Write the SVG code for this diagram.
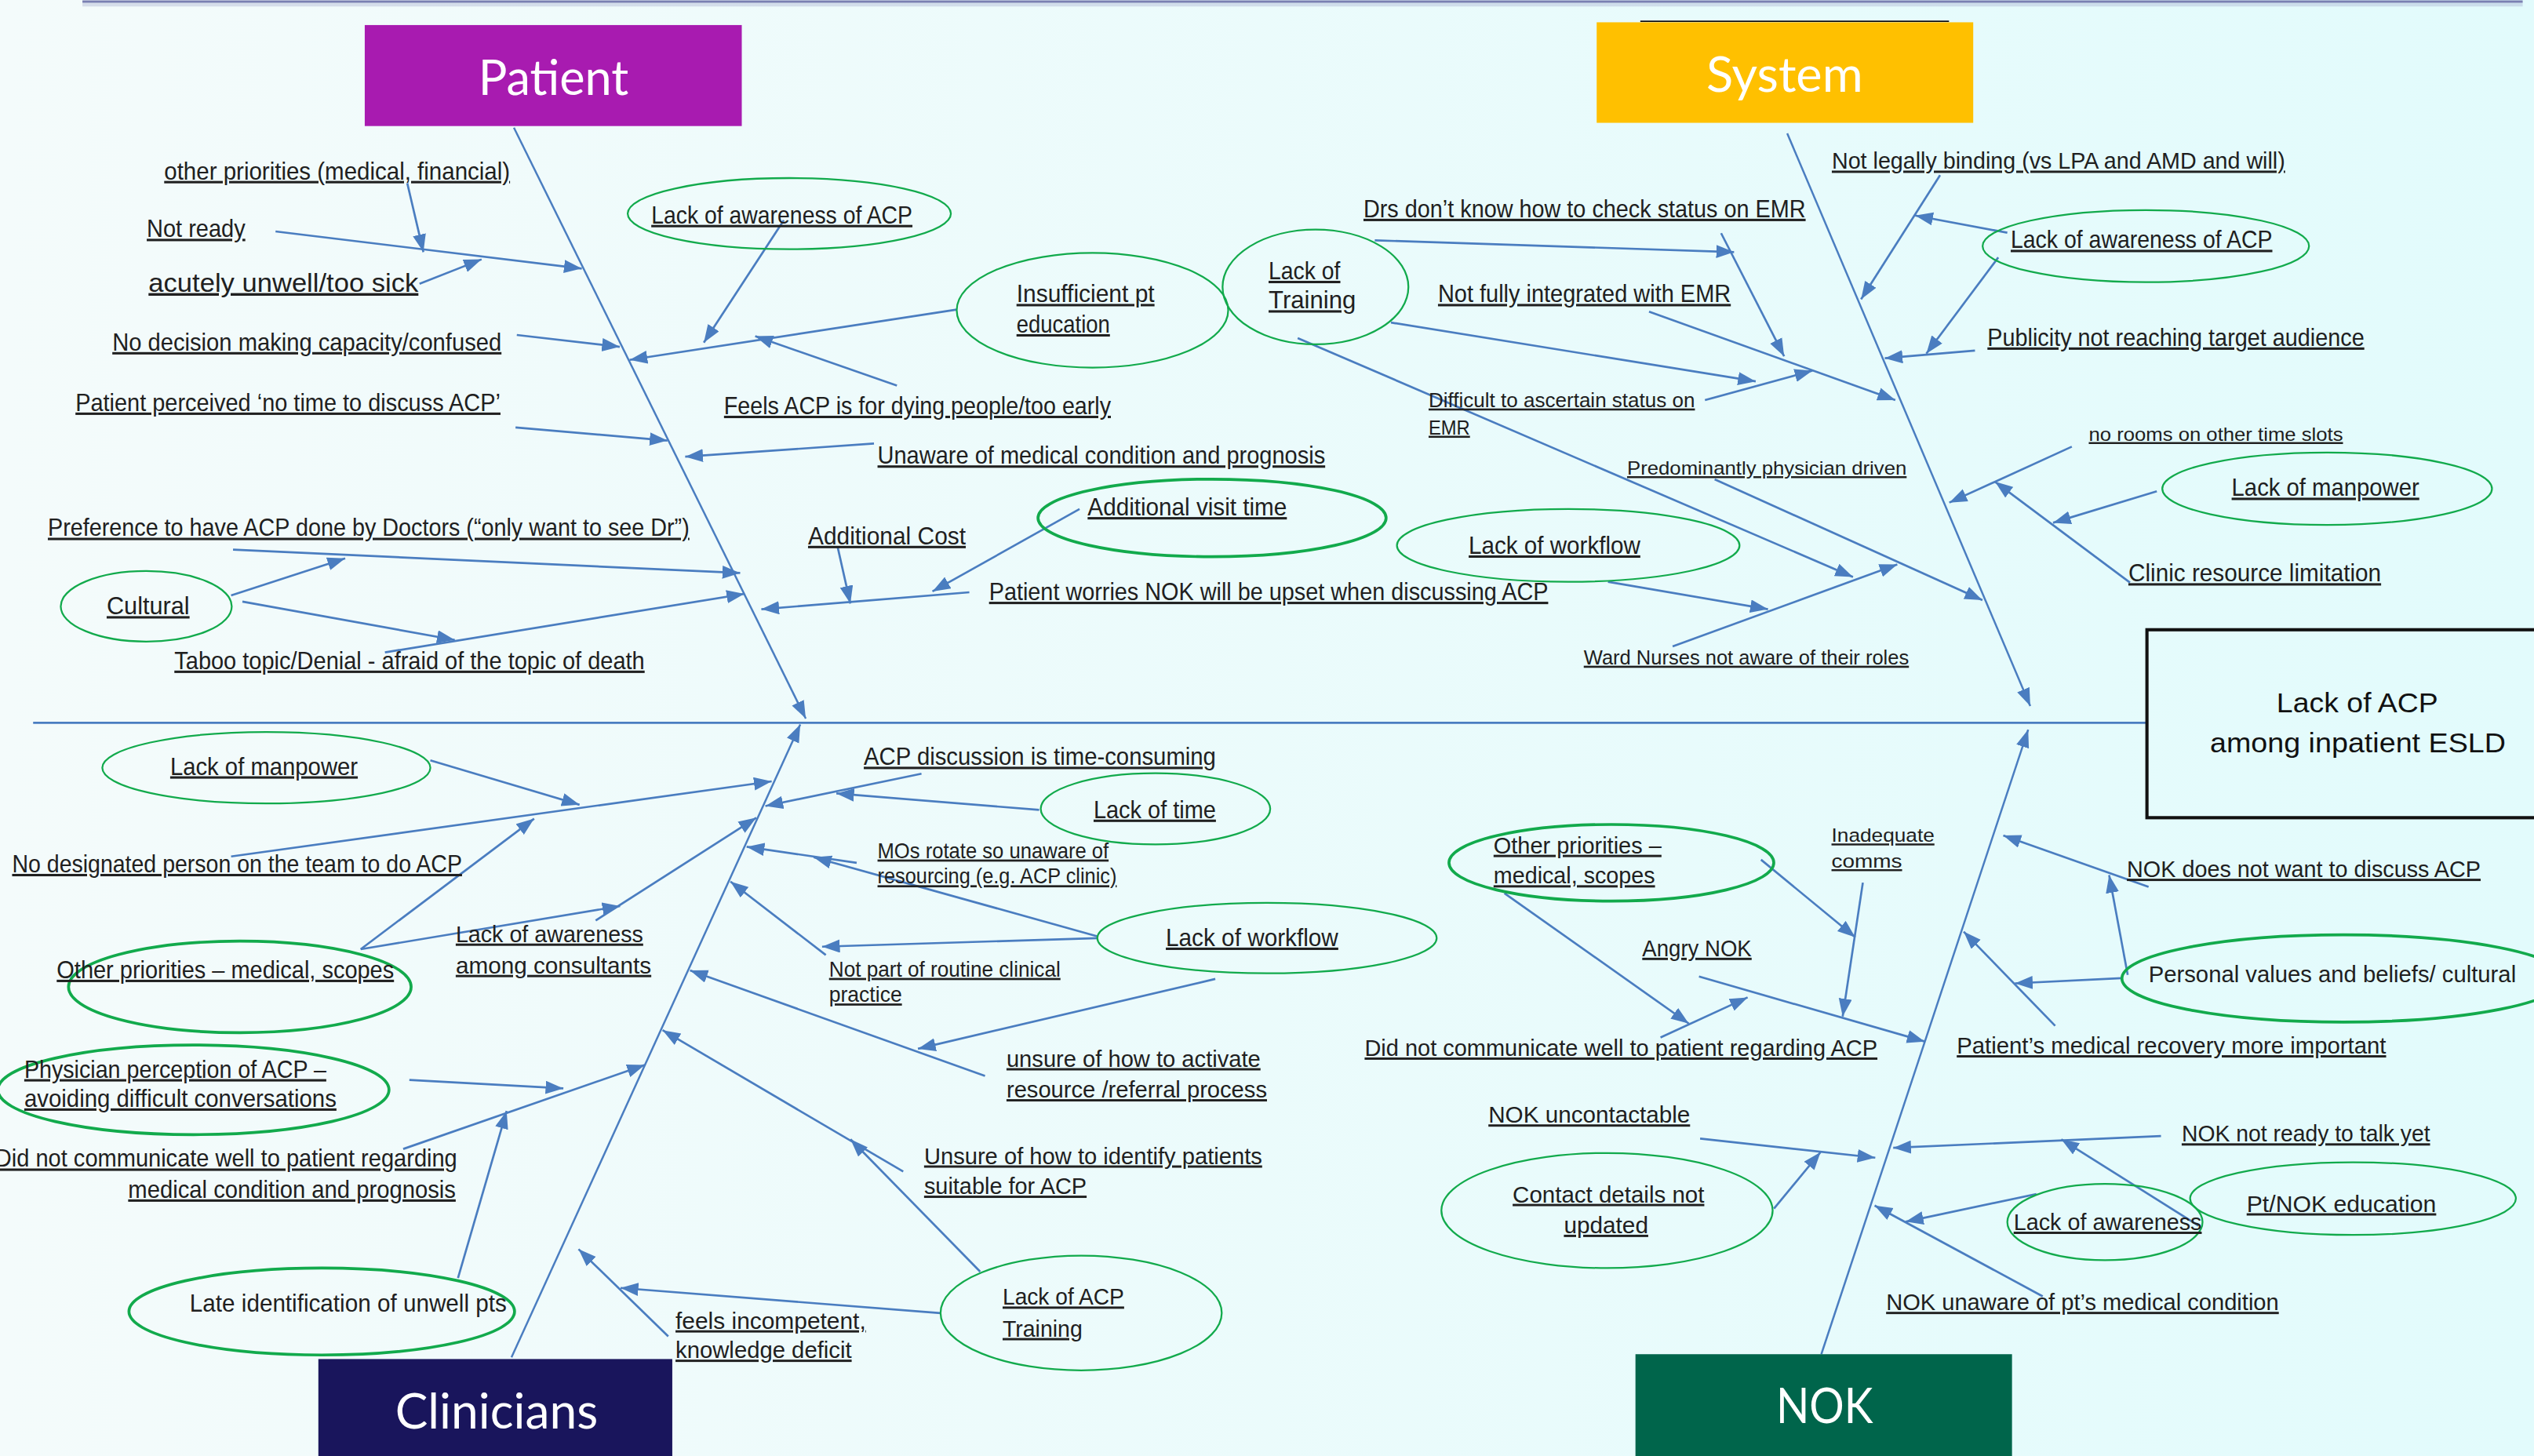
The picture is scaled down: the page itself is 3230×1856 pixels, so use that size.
<svg xmlns="http://www.w3.org/2000/svg" width="3230" height="1856" viewBox="0 0 3230 1856">
<defs>
<style>
.t{font-family:"Liberation Sans",Arial,sans-serif;font-size:14.3px;fill:#202020;text-decoration:underline}
.b{font-size:14.9px}
.s{font-size:12.8px}
.xs{font-size:12px}
.nu{text-decoration:none}
.h{font-family:Lato,"Open Sans",sans-serif;font-size:30px;fill:#ffffff}
.fx{font-family:"Liberation Sans",Arial,sans-serif;font-size:16.8px;fill:#111111}
.c{stroke:#4a7dc0;stroke-width:1.3;fill:none;marker-end:url(#ah)}
.bone{stroke:#4a7dc0;stroke-width:1.2;fill:none;marker-end:url(#ah)}
.e{fill:none;stroke:#12aa4c;stroke-width:1.1}
.ek{stroke-width:1.8}
</style>
<linearGradient id="bg" x1="0" y1="0" x2="1" y2="0">
<stop offset="0" stop-color="#f4fbfb"/>
<stop offset="1" stop-color="#e2fbfc"/>
</linearGradient>
<marker id="ah" markerUnits="userSpaceOnUse" markerWidth="12" markerHeight="9" refX="11" refY="4.1" orient="auto">
<path d="M0,0 L11,4.1 L0,8.2 z" fill="#4a7dc0"/>
</marker>
</defs>
<rect x="0" y="0" width="3230" height="1856" fill="url(#bg)"/>
<g transform="scale(2.05995)">
<line x1="51" y1="2.8" x2="1561" y2="2.8" stroke="#a0a6cc" stroke-width="2.4" opacity="0.35"/>
<line x1="51" y1="1" x2="1561" y2="1" stroke="#7a80b2" stroke-width="1.5"/>
<line x1="1015" y1="13.2" x2="1206" y2="13.2" stroke="#111" stroke-width="0.8"/>

<g id="connectors">
<line x1="20.5" y1="447.3" x2="1328.5" y2="447.3" stroke="#4a7dc0" stroke-width="1.3"/>
<line class="bone" x1="318" y1="79" x2="498.6" y2="444.7"/>
<line class="bone" x1="1105.9" y1="82.5" x2="1256.3" y2="436.9"/>
<line class="bone" x1="316.5" y1="840" x2="495.2" y2="448.3"/>
<line class="bone" x1="1127" y1="838" x2="1255" y2="451.5"/>
<!-- Patient -->
<line class="c" x1="252" y1="113.3" x2="262" y2="156"/>
<line class="c" x1="170.5" y1="143.2" x2="360" y2="166.2"/>
<line class="c" x1="259.6" y1="175.6" x2="298" y2="160.5"/>
<line class="c" x1="319.8" y1="207.3" x2="383.5" y2="214.6"/>
<line class="c" x1="319" y1="264.5" x2="413" y2="272.6"/>
<line class="c" x1="485" y1="136.3" x2="435.5" y2="212"/>
<line class="c" x1="592" y1="191.6" x2="389.6" y2="222.7"/>
<line class="c" x1="555" y1="238.6" x2="467.3" y2="208"/>
<line class="c" x1="540.8" y1="274.5" x2="424" y2="282.6"/>
<line class="c" x1="144.2" y1="340.1" x2="458" y2="354.6"/>
<line class="c" x1="143" y1="368.5" x2="213.6" y2="345.5"/>
<line class="c" x1="150" y1="372.3" x2="281.4" y2="396"/>
<line class="c" x1="238.2" y1="403.7" x2="460.6" y2="367.5"/>
<line class="c" x1="668" y1="315" x2="577" y2="366"/>
<line class="c" x1="518.3" y1="338.4" x2="526.2" y2="373.5"/>
<line class="c" x1="599.8" y1="366.5" x2="471.1" y2="377"/>
<!-- System -->
<line class="c" x1="1200.5" y1="108.4" x2="1151.6" y2="185.2"/>
<line class="c" x1="1242.1" y1="144" x2="1185.1" y2="133.4"/>
<line class="c" x1="1236.5" y1="159.3" x2="1192" y2="218.8"/>
<line class="c" x1="1222.1" y1="216.9" x2="1166.3" y2="221.7"/>
<line class="c" x1="1282" y1="276.4" x2="1206.2" y2="311"/>
<line class="c" x1="1334.6" y1="304" x2="1270.4" y2="323.5"/>
<line class="c" x1="1318" y1="360.5" x2="1234.5" y2="298.1"/>
<line class="c" x1="850.7" y1="148.7" x2="1073" y2="156"/>
<line class="c" x1="1065" y1="144.3" x2="1104" y2="220.5"/>
<line class="c" x1="860.7" y1="199.6" x2="1086.4" y2="236"/>
<line class="c" x1="1055" y1="247.6" x2="1121.5" y2="229.4"/>
<line class="c" x1="1020.4" y1="192.9" x2="1172.8" y2="247.6"/>
<line class="c" x1="803" y1="209.2" x2="1146.6" y2="357"/>
<line class="c" x1="1061" y1="296.6" x2="1226.7" y2="371.4"/>
<line class="c" x1="995" y1="360" x2="1094" y2="377"/>
<line class="c" x1="1035" y1="400" x2="1174" y2="349.3"/>
<!-- Clinicians -->
<line class="c" x1="266.3" y1="470.5" x2="358.6" y2="498"/>
<line class="c" x1="143" y1="530" x2="477.5" y2="483.5"/>
<line class="c" x1="223.2" y1="587.4" x2="330.5" y2="506.6"/>
<line class="c" x1="223.2" y1="587.4" x2="383.7" y2="560.7"/>
<line class="c" x1="368.6" y1="569.6" x2="468" y2="506"/>
<line class="c" x1="570.2" y1="478.8" x2="473.6" y2="498.8"/>
<line class="c" x1="643" y1="501.2" x2="517.5" y2="491"/>
<line class="c" x1="530.1" y1="533.9" x2="462" y2="524"/>
<line class="c" x1="679.3" y1="579.5" x2="503.5" y2="530.5"/>
<line class="c" x1="679.3" y1="580.5" x2="508.7" y2="585.8"/>
<line class="c" x1="511" y1="591" x2="452" y2="545.5"/>
<line class="c" x1="609.5" y1="665.8" x2="427" y2="600.5"/>
<line class="c" x1="752" y1="605.8" x2="568" y2="649"/>
<line class="c" x1="558.9" y1="725" x2="410" y2="637.5"/>
<line class="c" x1="606.5" y1="786.9" x2="526.3" y2="705"/>
<line class="c" x1="582" y1="812.6" x2="384" y2="797"/>
<line class="c" x1="413.5" y1="827" x2="358" y2="773"/>
<line class="c" x1="253.3" y1="668.3" x2="348.6" y2="673.5"/>
<line class="c" x1="249.5" y1="711" x2="399" y2="659"/>
<line class="c" x1="283.4" y1="790.8" x2="313.5" y2="687.5"/>
<!-- NOK -->
<line class="c" x1="1329.5" y1="548.8" x2="1239.6" y2="517"/>
<line class="c" x1="1316.6" y1="603.3" x2="1305.1" y2="541.5"/>
<line class="c" x1="1312.8" y1="605.3" x2="1246.8" y2="608.5"/>
<line class="c" x1="1271.7" y1="634.8" x2="1215.1" y2="576.5"/>
<line class="c" x1="1089.7" y1="532" x2="1148" y2="580"/>
<line class="c" x1="1152.7" y1="546.2" x2="1140.2" y2="629"/>
<line class="c" x1="930.9" y1="552.7" x2="1045" y2="633.4"/>
<line class="c" x1="1027.5" y1="642" x2="1081.4" y2="617.2"/>
<line class="c" x1="1051.3" y1="604.3" x2="1191" y2="644.5"/>
<line class="c" x1="1052" y1="704.6" x2="1160.4" y2="716.4"/>
<line class="c" x1="1097.7" y1="747.9" x2="1126.5" y2="713"/>
<line class="c" x1="1337.2" y1="703" x2="1171.5" y2="710.3"/>
<line class="c" x1="1360.3" y1="758.4" x2="1275.5" y2="705"/>
<line class="c" x1="1260.1" y1="738.9" x2="1179.2" y2="756"/>
<line class="c" x1="1264" y1="802.2" x2="1160" y2="746"/>
</g>

<g id="cat-patient">
<rect x="225.7" y="15.5" width="233.3" height="62.5" fill="#a81bb0"/>
<text class="h" x="296" y="58.5" textLength="93" lengthAdjust="spacingAndGlyphs">Patient</text>
</g>
<g id="cat-system">
<rect x="988" y="13.8" width="233" height="62.2" fill="#ffc000"/>
<text class="h" x="1055.8" y="56.6" textLength="97" lengthAdjust="spacingAndGlyphs">System</text>
</g>
<g id="cat-clinicians">
<rect x="197" y="841" width="219" height="62" fill="#19155c"/>
<text class="h" x="244.5" y="884" textLength="125.5" lengthAdjust="spacingAndGlyphs">Clinicians</text>
</g>
<g id="cat-nok">
<rect x="1012" y="838" width="233" height="65" fill="#00654b"/>
<text class="h" x="1099" y="880.7" textLength="60" lengthAdjust="spacingAndGlyphs">NOK</text>
</g>
<g id="effect">
<rect x="1328.5" y="389.7" width="260" height="116.3" fill="none" stroke="#111" stroke-width="2"/>
<text class="fx" x="1458.7" y="440.8" text-anchor="middle" textLength="100" lengthAdjust="spacingAndGlyphs">Lack of ACP</text>
<text class="fx" x="1459" y="465.6" text-anchor="middle" textLength="183" lengthAdjust="spacingAndGlyphs">among inpatient ESLD</text>
</g>

<!-- Patient nodes -->
<g id="p-other-priorities"><text class="t b" x="101.6" y="111" textLength="214" lengthAdjust="spacingAndGlyphs">other priorities (medical, financial)</text></g>
<g id="p-not-ready"><text class="t b" x="90.8" y="146.8" textLength="61" lengthAdjust="spacingAndGlyphs">Not ready</text></g>
<g id="p-acutely"><text class="t" style="font-size:16.5px" x="91.9" y="180.4" textLength="167" lengthAdjust="spacingAndGlyphs">acutely unwell/too sick</text></g>
<g id="p-no-decision"><text class="t b" x="69.5" y="216.9" textLength="240.8" lengthAdjust="spacingAndGlyphs">No decision making capacity/confused</text></g>
<g id="p-perceived"><text class="t b" x="46.7" y="254.3" textLength="263" lengthAdjust="spacingAndGlyphs">Patient perceived ‘no time to discuss ACP’</text></g>
<g id="p-preference"><text class="t b" x="29.6" y="331.8" textLength="397" lengthAdjust="spacingAndGlyphs">Preference to have ACP done by Doctors (“only want to see Dr”)</text></g>
<g id="p-cultural"><ellipse class="e" cx="90.5" cy="375.2" rx="52.9" ry="21.8"/><text class="t b" x="66" y="380.3" textLength="51.3" lengthAdjust="spacingAndGlyphs">Cultural</text></g>
<g id="p-taboo"><text class="t b" x="107.9" y="414" textLength="291" lengthAdjust="spacingAndGlyphs">Taboo topic/Denial - afraid of the topic of death</text></g>
<g id="p-awareness"><ellipse class="e" cx="488.4" cy="132.2" rx="100" ry="22"/><text class="t b" x="403" y="138.2" textLength="161.6" lengthAdjust="spacingAndGlyphs">Lack of awareness of ACP</text></g>
<g id="p-insufficient"><ellipse class="e" cx="676" cy="192" rx="84" ry="35.5"/><text class="t b" x="629" y="187.1" textLength="85.4" lengthAdjust="spacingAndGlyphs">Insufficient pt</text><text class="t b" x="629" y="205.8" textLength="57.8" lengthAdjust="spacingAndGlyphs">education</text></g>
<g id="s-lack-training"><ellipse class="e" cx="814" cy="177.6" rx="57.5" ry="35.5"/><text class="t b" x="785" y="172.8" textLength="44.4" lengthAdjust="spacingAndGlyphs">Lack of</text><text class="t b" x="785" y="191" textLength="54" lengthAdjust="spacingAndGlyphs">Training</text></g>
<g id="p-feels"><text class="t b" x="448" y="256.3" textLength="239.4" lengthAdjust="spacingAndGlyphs">Feels ACP is for dying people/too early</text></g>
<g id="p-unaware"><text class="t b" x="543" y="287" textLength="277" lengthAdjust="spacingAndGlyphs">Unaware of medical condition and prognosis</text></g>
<g id="p-visit-time"><ellipse class="e ek" cx="750" cy="320.5" rx="107.7" ry="24"/><text class="t b" x="673" y="319" textLength="123.3" lengthAdjust="spacingAndGlyphs">Additional visit time</text></g>
<g id="p-cost"><text class="t b" x="500" y="336.8" textLength="97.6" lengthAdjust="spacingAndGlyphs">Additional Cost</text></g>
<g id="p-worries"><text class="t b" x="612" y="371.4" textLength="346" lengthAdjust="spacingAndGlyphs">Patient worries NOK will be upset when discussing ACP</text></g>

<!-- System nodes -->
<g id="s-legal"><text class="t" x="1133.5" y="104.6" textLength="280.5" lengthAdjust="spacingAndGlyphs">Not legally binding (vs LPA and AMD and will)</text></g>
<g id="s-awareness"><ellipse class="e" cx="1327.8" cy="152.3" rx="101" ry="22.3"/><text class="t b" x="1244.2" y="153.6" textLength="161.9" lengthAdjust="spacingAndGlyphs">Lack of awareness of ACP</text></g>
<g id="s-publicity"><text class="t b" x="1229.8" y="214" textLength="233.2" lengthAdjust="spacingAndGlyphs">Publicity not reaching target audience</text></g>
<g id="s-no-rooms"><text class="t xs" x="1292.5" y="272.6" textLength="157.3" lengthAdjust="spacingAndGlyphs">no rooms on other time slots</text></g>
<g id="s-manpower"><ellipse class="e" cx="1440" cy="302.4" rx="102" ry="22.4"/><text class="t b" x="1380.9" y="307" textLength="116.1" lengthAdjust="spacingAndGlyphs">Lack of manpower</text></g>
<g id="s-clinic"><text class="t b" x="1317" y="359.9" textLength="156.4" lengthAdjust="spacingAndGlyphs">Clinic resource limitation</text></g>
<g id="s-drs"><text class="t b" x="843.7" y="134.4" textLength="273.6" lengthAdjust="spacingAndGlyphs">Drs don’t know how to check status on EMR</text></g>
<g id="s-integrated"><text class="t b" x="889.8" y="187.1" textLength="181.2" lengthAdjust="spacingAndGlyphs">Not fully integrated with EMR</text></g>
<g id="s-difficult"><text class="t" style="font-size:12.5px" x="884" y="251.8" textLength="164.8" lengthAdjust="spacingAndGlyphs">Difficult to ascertain status on</text><text class="t" style="font-size:12.5px" x="884" y="268.7" textLength="25.6" lengthAdjust="spacingAndGlyphs">EMR</text></g>
<g id="s-physician"><text class="t xs" x="1006.8" y="293.7" textLength="173" lengthAdjust="spacingAndGlyphs">Predominantly physician driven</text></g>
<g id="s-workflow"><ellipse class="e" cx="970.4" cy="337.5" rx="106" ry="22.5"/><text class="t b" x="908.8" y="342.7" textLength="106.2" lengthAdjust="spacingAndGlyphs">Lack of workflow</text></g>
<g id="s-nurses"><text class="t s" x="980" y="411" textLength="201.2" lengthAdjust="spacingAndGlyphs">Ward Nurses not aware of their roles</text></g>

<!-- Clinician nodes -->
<g id="c-manpower"><ellipse class="e" cx="164.8" cy="475.1" rx="101.5" ry="22.1"/><text class="t b" x="105.3" y="479.4" textLength="116.1" lengthAdjust="spacingAndGlyphs">Lack of manpower</text></g>
<g id="c-designated"><text class="t b" x="7.5" y="539.8" textLength="278.4" lengthAdjust="spacingAndGlyphs">No designated person on the team to do ACP</text></g>
<g id="c-time-consuming"><text class="t b" x="534.5" y="473.5" textLength="217.9" lengthAdjust="spacingAndGlyphs">ACP discussion is time-consuming</text></g>
<g id="c-time"><ellipse class="e" cx="715" cy="500.5" rx="71" ry="22"/><text class="t b" x="676.7" y="506.2" textLength="75.7" lengthAdjust="spacingAndGlyphs">Lack of time</text></g>
<g id="c-mos"><text class="t" style="font-size:13.2px" x="543" y="530.9" textLength="143" lengthAdjust="spacingAndGlyphs">MOs rotate so unaware of</text><text class="t" style="font-size:13.2px" x="543" y="546.8" textLength="148" lengthAdjust="spacingAndGlyphs">resourcing (e.g. ACP clinic)</text></g>
<g id="c-workflow"><ellipse class="e" cx="784" cy="580.5" rx="105" ry="21.8"/><text class="t b" x="721.4" y="585.4" textLength="106.7" lengthAdjust="spacingAndGlyphs">Lack of workflow</text></g>
<g id="c-consultants"><text class="t" x="282" y="582.9" textLength="116" lengthAdjust="spacingAndGlyphs">Lack of awareness</text><text class="t" x="282" y="602.3" textLength="121" lengthAdjust="spacingAndGlyphs">among consultants</text></g>
<g id="c-other-priorities"><ellipse class="e ek" cx="148.4" cy="610.7" rx="106" ry="28.3"/><text class="t b" x="35.1" y="605.3" textLength="208.7" lengthAdjust="spacingAndGlyphs">Other priorities – medical, scopes</text></g>
<g id="c-routine"><text class="t" style="font-size:13.2px" x="513" y="604.2" textLength="143.2" lengthAdjust="spacingAndGlyphs">Not part of routine clinical</text><text class="t" style="font-size:13.2px" x="513" y="620" textLength="45.1" lengthAdjust="spacingAndGlyphs">practice</text></g>
<g id="c-activate"><text class="t" x="622.8" y="660" textLength="157.2" lengthAdjust="spacingAndGlyphs">unsure of how to activate</text><text class="t" x="622.8" y="679.2" textLength="161.2" lengthAdjust="spacingAndGlyphs">resource /referral process</text></g>
<g id="c-perception"><ellipse class="e ek" cx="119.7" cy="674.4" rx="121" ry="27.7"/><text class="t b" x="15" y="666.8" textLength="186.9" lengthAdjust="spacingAndGlyphs">Physician perception of ACP –</text><text class="t b" x="15" y="684.9" textLength="193.2" lengthAdjust="spacingAndGlyphs">avoiding difficult conversations</text></g>
<g id="c-communicate"><text class="t b" x="-3" y="722.1" textLength="285.9" lengthAdjust="spacingAndGlyphs">Did not communicate well to patient regarding</text><text class="t b" x="79.3" y="741.2" textLength="202.7" lengthAdjust="spacingAndGlyphs">medical condition and prognosis</text></g>
<g id="c-identify"><text class="t" x="571.8" y="720.2" textLength="209.2" lengthAdjust="spacingAndGlyphs">Unsure of how to identify patients</text><text class="t" x="571.8" y="738.9" textLength="100.6" lengthAdjust="spacingAndGlyphs">suitable for ACP</text></g>
<g id="c-late"><ellipse class="e ek" cx="199.1" cy="811.6" rx="119.3" ry="26.9"/><text class="t b nu" x="117.4" y="811.8" textLength="196.1" lengthAdjust="spacingAndGlyphs">Late identification of unwell pts</text></g>
<g id="c-training"><ellipse class="e" cx="669" cy="812.5" rx="87" ry="35.5"/><text class="t" x="620.4" y="807.5" textLength="75.2" lengthAdjust="spacingAndGlyphs">Lack of ACP</text><text class="t" x="620.4" y="827" textLength="49.4" lengthAdjust="spacingAndGlyphs">Training</text></g>
<g id="c-incompetent"><text class="t" x="418" y="822.2" textLength="117.8" lengthAdjust="spacingAndGlyphs">feels incompetent,</text><text class="t" x="418" y="840.4" textLength="109" lengthAdjust="spacingAndGlyphs">knowledge deficit</text></g>

<!-- NOK nodes -->
<g id="n-other-priorities"><ellipse class="e ek" cx="997.1" cy="533.9" rx="100.5" ry="23.7"/><text class="t" x="924.2" y="528" textLength="103.9" lengthAdjust="spacingAndGlyphs">Other priorities –</text><text class="t" x="924.2" y="546.8" textLength="99.9" lengthAdjust="spacingAndGlyphs">medical, scopes</text></g>
<g id="n-inadequate"><text class="t xs" x="1133.3" y="521" textLength="63.7" lengthAdjust="spacingAndGlyphs">Inadequate</text><text class="t xs" x="1133.3" y="536.9" textLength="43.7" lengthAdjust="spacingAndGlyphs">comms</text></g>
<g id="n-not-want"><text class="t" x="1316.1" y="542.8" textLength="218.9" lengthAdjust="spacingAndGlyphs">NOK does not want to discuss ACP</text></g>
<g id="n-angry"><text class="t" x="1016.2" y="591.7" textLength="67.7" lengthAdjust="spacingAndGlyphs">Angry NOK</text></g>
<g id="n-values"><ellipse class="e ek" cx="1450" cy="605.5" rx="137" ry="27"/><text class="t nu" x="1329.5" y="607.7" textLength="227.4" lengthAdjust="spacingAndGlyphs">Personal values and beliefs/ cultural</text></g>
<g id="n-communicate"><text class="t" x="844.4" y="653.4" textLength="317.3" lengthAdjust="spacingAndGlyphs">Did not communicate well to patient regarding ACP</text></g>
<g id="n-recovery"><text class="t" x="1210.8" y="652" textLength="265.7" lengthAdjust="spacingAndGlyphs">Patient’s medical recovery more important</text></g>
<g id="n-uncontactable"><text class="t" x="921" y="694.8" textLength="124.8" lengthAdjust="spacingAndGlyphs">NOK uncontactable</text></g>
<g id="n-not-ready"><text class="t" x="1350" y="706.5" textLength="153.7" lengthAdjust="spacingAndGlyphs">NOK not ready to talk yet</text></g>
<g id="n-contact"><ellipse class="e" cx="994.4" cy="749.1" rx="102.5" ry="35.6"/><text class="t" x="995.3" y="744" text-anchor="middle" textLength="118.6" lengthAdjust="spacingAndGlyphs">Contact details not</text><text class="t" x="993.8" y="763.1" text-anchor="middle" textLength="52.2" lengthAdjust="spacingAndGlyphs">updated</text></g>
<g id="n-education"><ellipse class="e" cx="1456" cy="741.7" rx="100.8" ry="22.5"/><text class="t" x="1390.2" y="749.8" textLength="117.3" lengthAdjust="spacingAndGlyphs">Pt/NOK education</text></g>
<g id="n-awareness"><ellipse class="e" cx="1302.5" cy="756.2" rx="60.4" ry="23.6"/><text class="t" x="1246" y="761.2" textLength="116.4" lengthAdjust="spacingAndGlyphs">Lack of awareness</text></g>
<g id="n-unaware"><text class="t" x="1167.1" y="810.8" textLength="243" lengthAdjust="spacingAndGlyphs">NOK unaware of pt’s medical condition</text></g>
</g>
</svg>
